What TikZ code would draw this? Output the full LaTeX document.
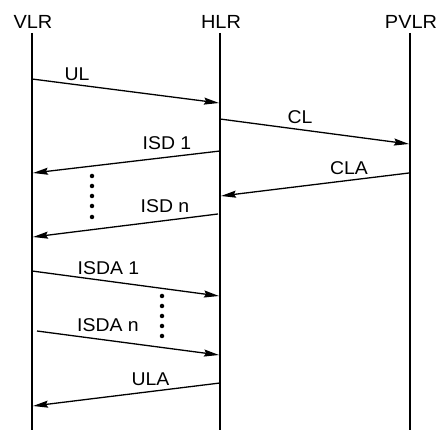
\documentclass[tikz,border=0pt]{standalone}
\usepackage{fontspec}
\setmainfont{Liberation Sans}[FakeStretch=1.05]
\usetikzlibrary{arrows.meta}
\begin{document}
\begin{tikzpicture}[x=1pt,y=-1pt,
  life/.style={line width=1.1pt},
  msg/.style={line width=1.3pt,-{Stealth[length=15pt,width=7pt,inset=2pt]}},
  head/.style={inner sep=0pt,font=\fontsize{19}{21}\selectfont},
  lbl/.style={inner sep=0pt,font=\fontsize{18.5}{21}\selectfont},
  dotm/.style={fill=black,circle,inner sep=0pt,minimum size=4.5pt}]
\useasboundingbox (0,0) rectangle (437,430);
% headers
\node[head] (vlr) at (33,21.5) {VLR};
\node[head] (hlr) at (221,21.5) {HLR};
\node[head] (pvlr) at (411,21.5) {PVLR};
% lifelines
\coordinate (vt) at (32,33);  \coordinate (vb) at (32,430);
\coordinate (ht) at (220,33); \coordinate (hb) at (220,430);
\coordinate (pt) at (410,33); \coordinate (pb) at (410,430);
\draw[life] (vt) -- (vb);
\draw[life] (ht) -- (hb);
\draw[life] (pt) -- (pb);
% message end points
\coordinate (ul1) at (32,79);   \coordinate (ul2) at (219,103);
\coordinate (cl1) at (220,119); \coordinate (cl2) at (409,144);
\coordinate (is1a) at (220,151); \coordinate (is1b) at (33,173);
\coordinate (cla1) at (409,173); \coordinate (cla2) at (221,196);
\coordinate (isna) at (218,214); \coordinate (isnb) at (33,237);
\coordinate (ia1a) at (32,271); \coordinate (ia1b) at (219,296);
\coordinate (iana) at (37,331); \coordinate (ianb) at (219,355);
\coordinate (ula1) at (220,383); \coordinate (ula2) at (33,406);
% messages
\draw[msg] (ul1) -- (ul2);
\draw[msg] (cl1) -- (cl2);
\draw[msg] (is1a) -- (is1b);
\draw[msg] (cla1) -- (cla2);
\draw[msg] (isna) -- (isnb);
\draw[msg] (ia1a) -- (ia1b);
\draw[msg] (iana) -- (ianb);
\draw[msg] (ula1) -- (ula2);
% labels
\node[lbl] (tul) at (77,74) {UL};
\node[lbl] (tcl) at (300,117.5) {CL};
\node[lbl] (tis1) at (167,143) {ISD 1};
\node[lbl] (tcla) at (349,168) {CLA};
\node[lbl] (tisn) at (165,206) {ISD n};
\node[lbl] (tia1) at (108.5,268) {ISDA 1};
\node[lbl] (tian) at (108,325) {ISDA n};
\node[lbl] (tula) at (150.5,379.5) {ULA};
% dots
\foreach \y [count=\i] in {176,186,196,206,217} \node[dotm] (da\i) at (92,\y) {};
\foreach \y [count=\i] in {296,306,316,326,336} \node[dotm] (db\i) at (162,\y) {};
\end{tikzpicture}
\end{document}
